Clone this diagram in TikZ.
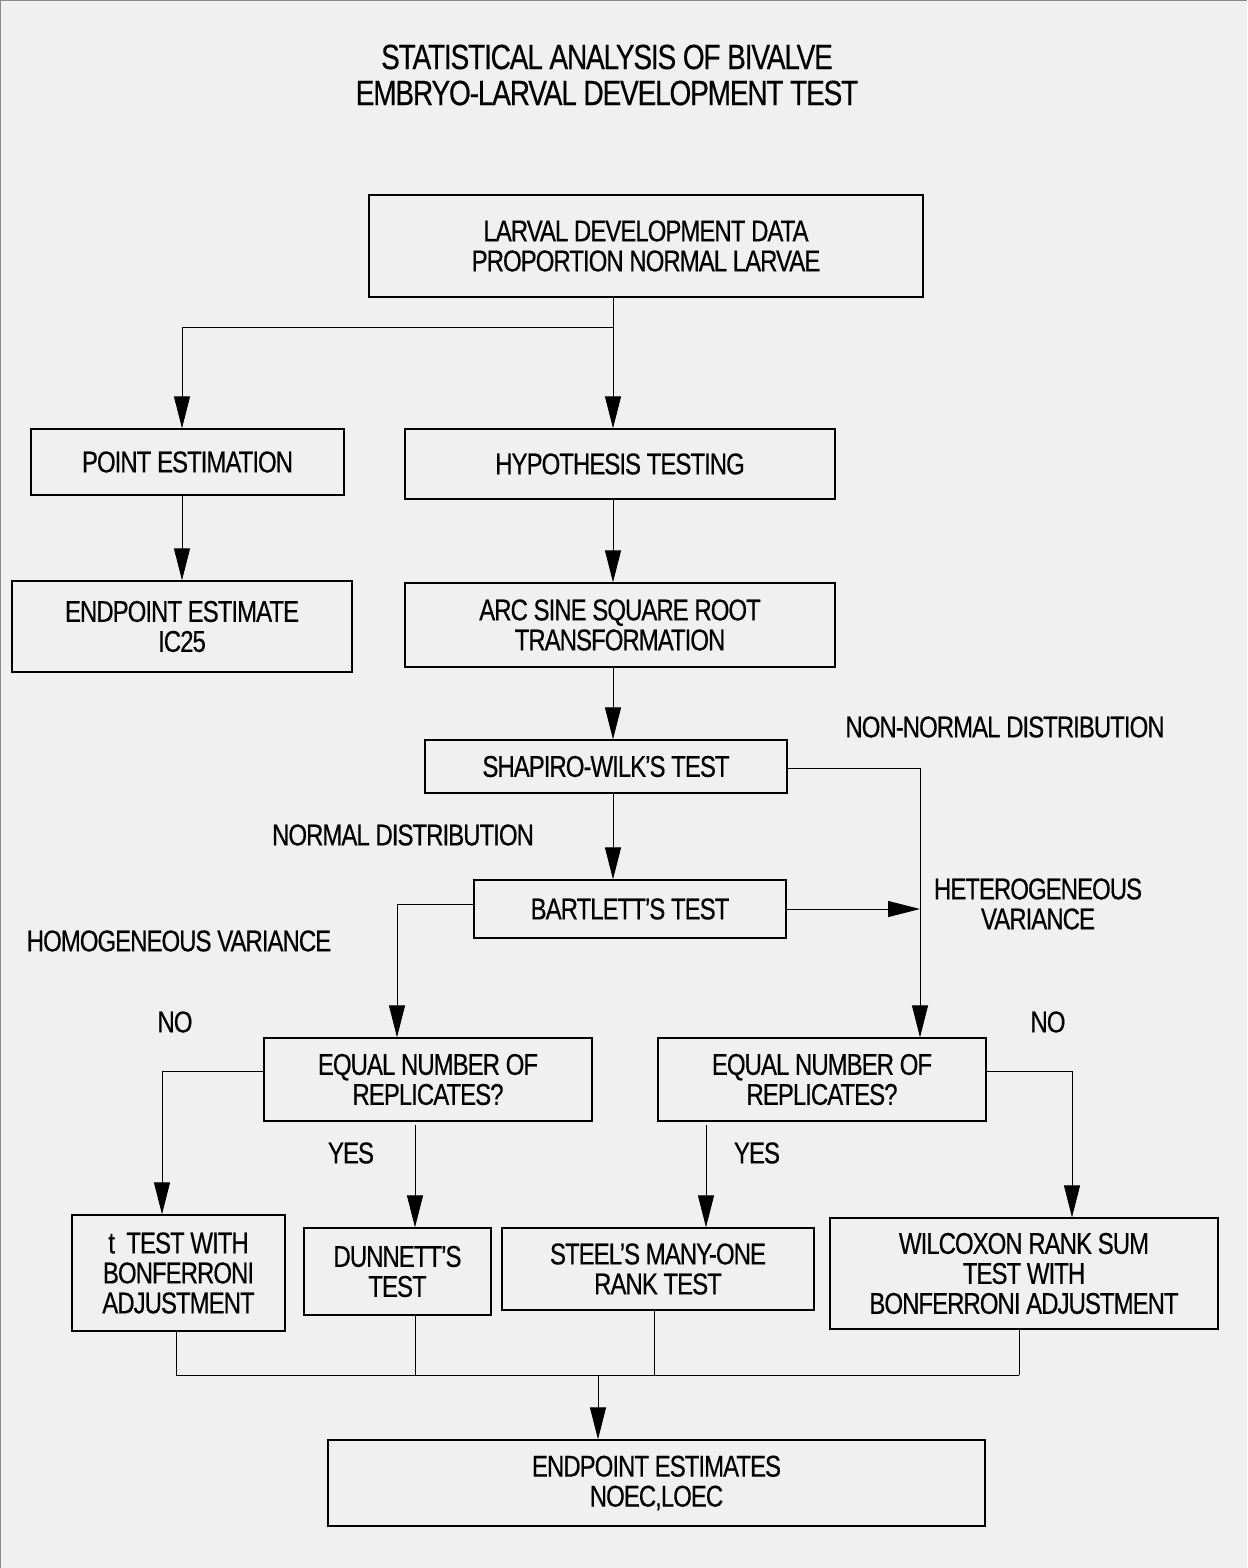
\documentclass[tikz,border=0pt]{standalone}
\usepackage{fontspec}
\setmainfont{Liberation Sans}[FakeStretch=0.8, LetterSpace=-3.3, FakeBold=0.4]
\usepackage{xcolor}
\usepackage{tikz}
\usetikzlibrary{arrows.meta,positioning}
\definecolor{paper}{HTML}{F0F0F0}
\definecolor{ink}{HTML}{000000}
\definecolor{edge}{HTML}{8A8A8A}
\newcommand\boxfont{\fontsize{30}{30}\selectfont}
\newcommand\headfont{\fontsize{35}{36}\selectfont}
\tikzset{
  box/.style={draw=ink, line width=1.3pt, align=center, inner sep=0pt, font=\boxfont, text=ink},
  lab/.style={align=center, inner sep=0pt, font=\boxfont, text=ink},
  conn/.style={draw=ink, line width=1pt},
  arr/.style={conn, -{Triangle[length=32pt, width=16pt]}},
}

\begin{document}
\begin{tikzpicture}[x=1pt, y=-1pt]
\fill[paper] (0,0) rectangle (1247,1568);
\useasboundingbox (0,0) rectangle (1247,1568);
\draw[edge, line width=2pt] (0,1568) -- (0,0) -- (1247,0);

% title
\node[lab, font=\headfont] (title) at (607,75) {STATISTICAL ANALYSIS OF BIVALVE\\EMBRYO-LARVAL DEVELOPMENT TEST};

% boxes
\node[box, minimum width=554pt, minimum height=102pt] (data) at (646,246) {LARVAL DEVELOPMENT DATA\\PROPORTION NORMAL LARVAE};
\node[box, minimum width=313pt, minimum height=66pt] (point) at (187.5,462) {POINT ESTIMATION};
\node[box, minimum width=430pt, minimum height=70pt] (hyp) at (620,464) {HYPOTHESIS TESTING};
\node[box, minimum width=340pt, minimum height=91pt] (endpt) at (182,626.5) {ENDPOINT ESTIMATE\\IC25};
\node[box, minimum width=430pt, minimum height=84pt] (arcsine) at (620,625) {ARC SINE SQUARE ROOT\\TRANSFORMATION};
\node[box, minimum width=362pt, minimum height=53pt] (shapiro) at (606,766.5) {SHAPIRO-WILK'S TEST};
\node[box, minimum width=312pt, minimum height=58pt] (bartlett) at (630,909) {BARTLETT'S TEST};
\node[box, minimum width=328pt, minimum height=83pt] (eqL) at (428,1079.5) {EQUAL NUMBER OF\\REPLICATES?};
\node[box, minimum width=328pt, minimum height=83pt] (eqR) at (822,1079.5) {EQUAL NUMBER OF\\REPLICATES?};
\node[box, minimum width=213pt, minimum height=116pt] (ttest) at (178.5,1273) {t~~TEST WITH\\BONFERRONI\\ADJUSTMENT};
\node[box, minimum width=187pt, minimum height=87pt] (dunnett) at (397.5,1271.5) {DUNNETT'S\\TEST};
\node[box, minimum width=312pt, minimum height=82pt] (steel) at (658,1269) {STEEL'S MANY-ONE\\RANK TEST};
\node[box, minimum width=388pt, minimum height=111pt] (wilcox) at (1024,1273.5) {WILCOXON RANK SUM\\TEST WITH\\BONFERRONI ADJUSTMENT};
\node[box, minimum width=657pt, minimum height=86pt] (final) at (656.5,1483) {ENDPOINT ESTIMATES\\NOEC,LOEC};

% labels
\node[lab] (nonnorm) at (1005,727) {NON-NORMAL DISTRIBUTION};
\node[lab] (norm) at (403,835) {NORMAL DISTRIBUTION};
\node[lab] (hetero) at (1038,904) {HETEROGENEOUS\\VARIANCE};
\node[lab] (homog) at (179,941) {HOMOGENEOUS VARIANCE};
\node[lab] (noL) at (175,1022) {NO};
\node[lab] (noR) at (1048,1022) {NO};
\node[lab] (yesL) at (351,1153) {YES};
\node[lab] (yesR) at (757,1153) {YES};

% connectors
\coordinate (sp) at (613,327);
\coordinate (br) at (182,327);
\draw[conn] (data.south -| sp) -- (sp) -- (br);
\draw[arr] (br) -- (point.north -| br);
\draw[arr] (sp) -- (hyp.north -| sp);
\draw[arr] (point.south -| br) -- (endpt.north -| br);
\draw[arr] (hyp.south -| sp) -- (arcsine.north -| sp);
\draw[arr] (arcsine.south -| sp) -- (shapiro.north -| sp);
\draw[arr] (shapiro.south -| sp) -- (bartlett.north -| sp);

\coordinate (rc) at (920,768);
\draw[arr] (shapiro.east |- rc) -- (rc) -- (eqR.north -| rc);
\draw[arr] (bartlett.east) -- (bartlett.east -| rc);
\coordinate (lc) at (397,904);
\draw[arr] (bartlett.west |- lc) -- (lc) -- (eqL.north -| lc);

\coordinate (tc) at (162,1071);
\draw[arr] (eqL.west |- tc) -- (tc) -- (ttest.north -| tc);
\coordinate (yl) at (415,1125);
\draw[arr] (yl) -- (dunnett.north -| yl);
\coordinate (yr) at (706,1125);
\draw[arr] (yr) -- (steel.north -| yr);
\coordinate (wc) at (1072,1071);
\draw[arr] (eqR.east |- wc) -- (wc) -- (wilcox.north -| wc);

\coordinate (b1) at (176,1375);
\coordinate (b2) at (415,1375);
\coordinate (b3) at (654,1375);
\coordinate (b4) at (1019,1375);
\coordinate (bus) at (598,1375);
\draw[conn] (ttest.south -| b1) -- (b1);
\draw[conn] (dunnett.south -| b2) -- (b2);
\draw[conn] (steel.south -| b3) -- (b3);
\draw[conn] (wilcox.south -| b4) -- (b4);
\draw[conn] (b1) -- (b4);
\draw[arr] (bus) -- (final.north -| bus);
\end{tikzpicture}
\end{document}
